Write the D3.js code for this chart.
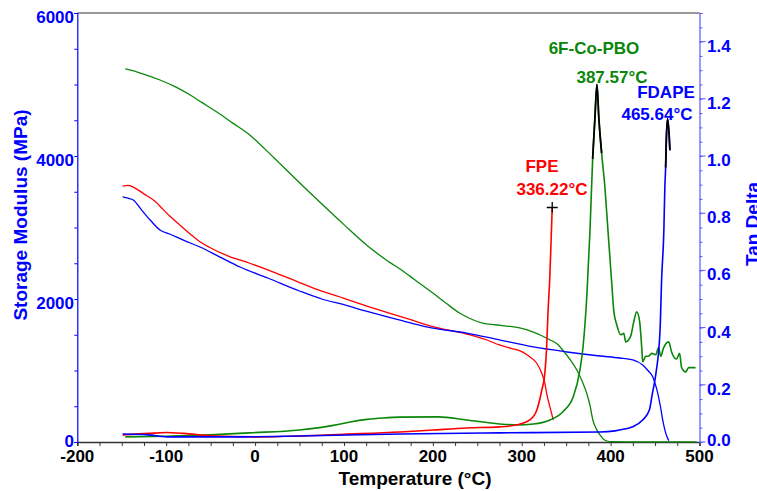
<!DOCTYPE html>
<html>
<head>
<meta charset="utf-8">
<script src="https://cdn.jsdelivr.net/npm/d3@7"></script>
<style>
  html, body { margin: 0; padding: 0; background: #ffffff; }
  svg { display: block; }
  text { font-family: "Liberation Sans", Arial, sans-serif; font-weight: bold; }
</style>
</head>
<body>
<svg id="chart" width="757" height="491"></svg>
<script>
// ---------- DATA ----------
const xTickLabels = [-200, -100, 0, 100, 200, 300, 400, 500];
const leftTickLabels = [0, 2000, 4000, 6000];
const rightTickLabels = [0.0, 0.2, 0.4, 0.6, 0.8, 1.0, 1.2, 1.4];

// Storage modulus (MPa) vs temperature (°C)
const fpeModulus = [[-149,3580],[-143,3590],[-137,3566],[-125,3470],[-112,3360],[-104,3260],[-96,3160],[-85,3040],[-73,2910],[-62,2800],[-51,2720],[-30,2600],[-6,2500],[20,2380],[50,2230],[75,2110],[100,2010],[125,1905],[150,1805],[175,1710],[200,1615],[238,1510],[260,1430],[275,1357],[288,1310],[300,1265],[309,1193],[316.7,1105],[322.4,965],[326,825],[328,685],[331.7,490],[335.5,308]];
const pboModulus = [[-146,5217],[-140,5200],[-129,5160],[-107,5063],[-90,4970],[-73,4853],[-60,4750],[-43,4615],[-25,4460],[-6,4294],[10,4110],[25,3930],[50,3625],[75,3330],[100,3040],[125,2760],[150,2525],[163,2420],[180,2266],[200,2084],[215,1940],[230,1804],[245,1710],[256,1664],[270,1640],[283,1622],[300,1590],[313,1538],[322,1490],[332,1427],[340,1370],[346,1287],[354,1160],[362,1007],[368,850],[373,685],[377,500],[380,308],[384,180],[388,98],[392,40],[396,14],[400,4],[430,2],[497,2]];
const fdapeModulus = [[-149,3427],[-143,3410],[-137,3385],[-128,3250],[-118,3105],[-107,2965],[-96,2909],[-80,2820],[-62,2727],[-40,2590],[-17,2448],[15,2290],[50,2112],[75,2000],[100,1920],[125,1830],[150,1745],[175,1665],[200,1594],[238,1524],[275,1427],[313,1329],[351,1259],[388,1203],[410,1175],[425,1147],[436,1077],[442,1000],[447.5,909],[450,820],[453,685],[456,500],[458.6,308],[461,170],[464,56],[465.5,20]];

// Tan delta vs temperature (°C)
const fpeTanDelta = [[-149,0.025],[-120,0.03],[-100,0.033],[-80,0.03],[-50,0.022],[0,0.018],[50,0.021],[100,0.027],[163,0.035],[200,0.042],[238,0.049],[275,0.053],[295,0.06],[309,0.077],[317,0.112],[322.5,0.18],[326,0.24],[328,0.33],[329.5,0.45],[331.5,0.57],[333,0.7],[334.3,0.82]];
const pboTanDelta = [[-146,0.018],[-100,0.02],[-51,0.025],[-6,0.032],[50,0.042],[88,0.058],[107,0.07],[126,0.079],[144,0.084],[163,0.087],[206,0.088],[238,0.077],[275,0.063],[295,0.06],[313,0.063],[332,0.077],[346,0.105],[358,0.158],[365.5,0.252],[369,0.333],[373.4,0.52],[376.8,0.74],[379.8,0.99],[382.3,1.13],[384.6,1.25],[386.8,1.13],[389.9,1.01],[393.6,0.89],[397,0.74],[401.4,0.55],[403.5,0.46],[406.9,0.41],[411.4,0.375],[414.8,0.38],[417,0.35],[422.6,0.37],[426,0.42],[429.4,0.455],[432.7,0.42],[435,0.33],[436.1,0.28],[439.5,0.30],[442.8,0.30],[446.2,0.31],[450.7,0.305],[454,0.33],[456.3,0.30],[459.7,0.33],[465.3,0.35],[468.6,0.315],[474.2,0.29],[477.6,0.31],[479.9,0.26],[484.4,0.245],[487.8,0.26],[491,0.26],[495.6,0.26]];
const fdapeTanDelta = [[-149,0.028],[-120,0.025],[-99,0.018],[-25,0.018],[50,0.021],[163,0.028],[275,0.032],[388,0.035],[405,0.039],[417,0.046],[425,0.053],[436,0.077],[443.6,0.112],[447,0.17],[451,0.24],[455.6,0.39],[457.4,0.57],[459.9,0.74],[461,0.89],[461.9,0.96],[462.7,1.06],[464.1,1.13],[465.9,1.07],[466.7,1.02]];

// Peak highlight ranges (°C)
const pboPeakRange = [379.8, 389.9];
const fdapePeakRange = [461.9, 466.7];

// Annotations
const seriesNames = ["FPE", "6F-Co-PBO", "FDAPE"];
const peakTemps = ["336.22°C", "387.57°C", "465.64°C"];

// ---------- LAYOUT ----------
const svg = d3.select("#chart");
const x = d3.scaleLinear().domain([-200, 500]).range([77.3, 699.5]);
const yL = d3.scaleLinear().domain([0, 6000]).range([442, 13]);
const yR = d3.scaleLinear().domain([0, 1.5]).range([442, 13]);

const RED = "#ff0000", GREEN = "#0a870a", BLUE = "#0000ff";

// frame top line
svg.append("line").attr("x1", x(-200)).attr("x2", x(500)).attr("y1", 13).attr("y2", 13)
  .attr("stroke", "#333").attr("stroke-width", 1.2);

// bottom axis
const gx = svg.append("g").attr("transform", `translate(0,${yL(0)})`)
  .call(d3.axisBottom(x).tickValues(d3.range(-200, 501, 25)).tickSize(4).tickFormat(""));
gx.select(".domain").attr("stroke", "#333").attr("stroke-width", 1.5);
gx.selectAll(".tick line").attr("stroke", "#333");
svg.append("g").selectAll("text").data(xTickLabels).join("text")
  .attr("x", d => x(d)).attr("y", 462).attr("text-anchor", "middle")
  .attr("font-size", 17).attr("fill", "#000").text(d => d);

// left axis
const gl = svg.append("g").attr("transform", `translate(${x(-200)},0)`)
  .call(d3.axisLeft(yL).tickValues(d3.range(0, 6001, 500)).tickSize(3).tickFormat(""));
gl.select(".domain").attr("stroke", BLUE).attr("stroke-width", 1.2);
gl.selectAll(".tick line").attr("stroke", BLUE);
svg.append("g").selectAll("text").data(leftTickLabels).join("text")
  .attr("x", 74).attr("y", d => yL(d) + (d === 0 ? 5 : 10)).attr("text-anchor", "end")
  .attr("font-size", 17).attr("fill", BLUE).text(d => d);

// right axis
const gr = svg.append("g").attr("transform", `translate(${x(500)},0)`)
  .call(d3.axisRight(yR).tickValues(d3.range(0, 1.501, 0.05)).tickSize(3).tickFormat(""));
gr.select(".domain").attr("stroke", "#5a5aff").attr("stroke-width", 1.2);
gr.selectAll(".tick line").attr("stroke", "#5a5aff");
svg.append("g").selectAll("line").data(rightTickLabels).join("line")
  .attr("x1", x(500)).attr("x2", x(500) + 6).attr("y1", d => yR(d)).attr("y2", d => yR(d))
  .attr("stroke", "#5a5aff");
svg.append("g").selectAll("text").data(rightTickLabels).join("text")
  .attr("x", 707).attr("y", d => yR(d) + (d === 0 ? 4 : 10)).attr("text-anchor", "start")
  .attr("font-size", 17).attr("fill", BLUE).text(d => d.toFixed(1));

// axis titles
svg.append("text").attr("transform", "translate(27,215) rotate(-90)").attr("text-anchor", "middle")
  .attr("font-size", 19).attr("fill", BLUE).text("Storage Modulus (MPa)");
svg.append("text").attr("x", 415).attr("y", 485).attr("text-anchor", "middle")
  .attr("font-size", 19).attr("fill", "#000").text("Temperature (°C)");
svg.append("text").attr("transform", "translate(759,224) rotate(-90)").attr("text-anchor", "middle")
  .attr("font-size", 19).attr("fill", BLUE).text("Tan Delta");

// curves
const lineL = d3.line().x(d => x(d[0])).y(d => yL(d[1])).curve(d3.curveMonotoneX);
const lineR = d3.line().x(d => x(d[0])).y(d => yR(d[1])).curve(d3.curveMonotoneX);
const plot = svg.append("g");
function draw(data, gen, color, w) {
  plot.append("path").datum(data).attr("d", gen).attr("fill", "none")
    .attr("stroke", color).attr("stroke-width", w).attr("stroke-linejoin", "round");
}
draw(pboModulus, lineL, GREEN, 1.3);
draw(fpeModulus, lineL, RED, 1.3);
draw(fdapeModulus, lineL, BLUE, 1.3);
draw(pboTanDelta, lineR, GREEN, 1.6);
draw(fpeTanDelta, lineR, RED, 1.6);
draw(fdapeTanDelta, lineR, BLUE, 1.6);
draw(pboTanDelta.filter(d => d[0] >= pboPeakRange[0] && d[0] <= pboPeakRange[1]), lineR, "#000", 1.8);
draw(fdapeTanDelta.filter(d => d[0] >= fdapePeakRange[0] && d[0] <= fdapePeakRange[1]), lineR, "#000", 1.8);

// + marker at FPE peak
const fpePeak = fpeTanDelta[fpeTanDelta.length - 1];
const px = x(fpePeak[0]), py = yR(fpePeak[1]);
svg.append("path").attr("d", `M${px - 5.5},${py}H${px + 5.5}M${px},${py - 5.5}V${py + 5}`)
  .attr("stroke", "#000").attr("stroke-width", 1.3);

// annotations
const ann = [
  { name: seriesNames[0], temp: peakTemps[0], color: RED,   nx: 542, ny: 172, tx: 552, ty: 195 },
  { name: seriesNames[1], temp: peakTemps[1], color: GREEN, nx: 594, ny: 54,  tx: 612, ty: 83 },
  { name: seriesNames[2], temp: peakTemps[2], color: BLUE,  nx: 666, ny: 98,  tx: 657, ty: 120 }
];
ann.forEach(a => {
  svg.append("text").attr("x", a.nx).attr("y", a.ny).attr("text-anchor", "middle")
    .attr("font-size", 17).attr("fill", a.color).text(a.name);
  svg.append("text").attr("x", a.tx).attr("y", a.ty).attr("text-anchor", "middle")
    .attr("font-size", 17).attr("fill", a.color).text(a.temp);
});
</script>
</body>
</html>
